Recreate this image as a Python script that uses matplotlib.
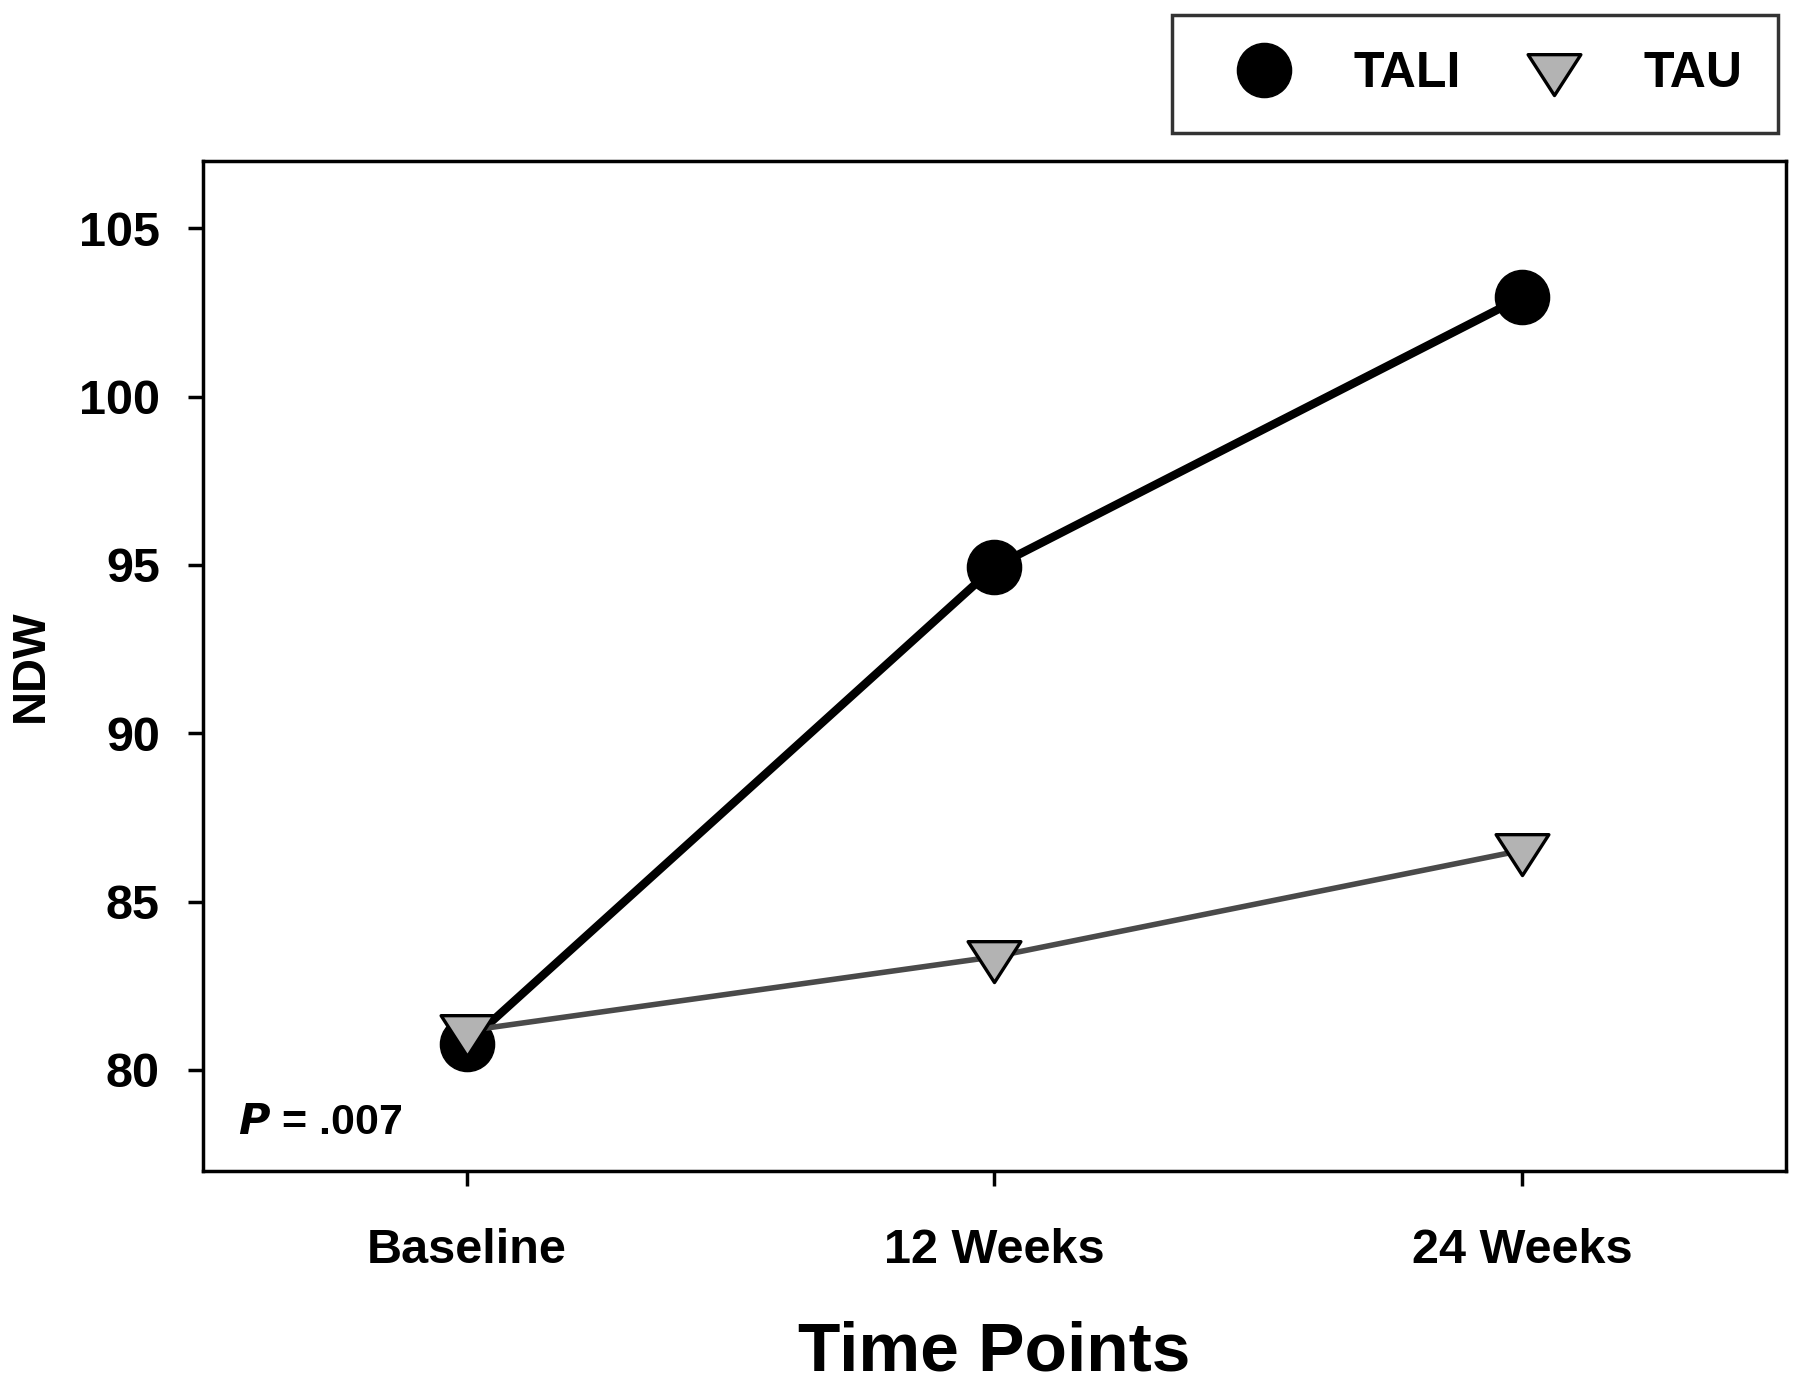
import matplotlib
matplotlib.use("Agg")
import matplotlib.pyplot as plt
from matplotlib.path import Path

# Data
time_points = ["Baseline", "12 Weeks", "24 Weeks"]
tali = [80.77, 94.94, 102.95]
tau = [81.16, 83.36, 86.52]
y_ticks = [80, 85, 90, 95, 100, 105]
p_text = ".007"

plt.rcParams['font.family'] = ['Liberation Sans', 'DejaVu Sans']
plt.rcParams['font.weight'] = 'bold'

fig = plt.figure(figsize=(18, 13.84), dpi=100)
ax = fig.add_axes([0.1128, 0.154, 0.992 - 0.1128, 0.8837 - 0.154])

x = list(range(len(time_points)))

tri = Path([(-1, 0.6), (1, 0.6), (0, -0.95), (-1, 0.6)],
           [Path.MOVETO, Path.LINETO, Path.LINETO, Path.CLOSEPOLY])

ax.plot(x, tali, color='black', lw=6, marker='o', markersize=39,
        markerfacecolor='black', markeredgecolor='black', label='TALI', zorder=3)
ax.plot(x, tau, color='#4a4a4a', lw=4, marker=tri, markersize=38,
        markerfacecolor='#b3b3b3', markeredgecolor='black', markeredgewidth=2.4,
        label='TAU', zorder=4)

ax.set_xlim(-0.5, 2.5)
ax.set_ylim(77, 107)
ax.set_xticks(x)
ax.set_xticklabels(time_points)
ax.set_yticks(y_ticks)
ax.tick_params(axis='both', direction='out', length=11, width=2.5, labelsize=35)
ax.tick_params(axis='x', pad=30)
ax.tick_params(axis='y', pad=20)
for lab in ax.get_xticklabels() + ax.get_yticklabels():
    lab.set_fontweight('bold')
for s in ax.spines.values():
    s.set_linewidth(2.5)
    s.set_color('black')

ax.set_xlabel("Time Points", fontsize=50, fontweight='bold', labelpad=34)
ax.set_ylabel("NDW", fontsize=34, fontweight='bold')
ax.yaxis.set_label_coords(-0.095, 0.5)

ax.text(0.022, 0.047, r"$\bfit{P}$" + " = " + p_text, transform=ax.transAxes,
        fontsize=31, fontweight='bold', va='center', ha='left')

leg = ax.legend(loc='upper right', bbox_to_anchor=(1778 / 1800, 1 - 15 / 1384),
                bbox_transform=fig.transFigure, borderaxespad=0, ncol=2,
                frameon=True, fancybox=False, fontsize=36, handlelength=2.25,
                handletextpad=0.65, columnspacing=0.75, borderpad=0.72)
leg.get_frame().set_edgecolor('black')
leg.get_frame().set_linewidth(2.5)
for h in leg.get_lines():
    h.set_linestyle('none')
for t in leg.get_texts():
    t.set_fontweight('bold')

fig.savefig("out.png", dpi=100)
